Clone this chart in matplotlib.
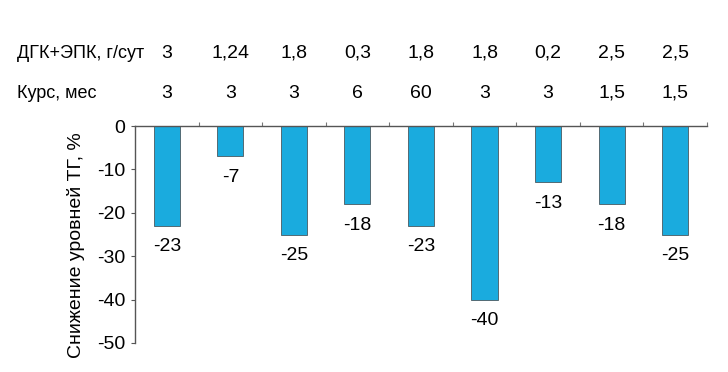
import matplotlib
matplotlib.use("Agg")
import matplotlib.pyplot as plt
import numpy as np

plt.rcParams['font.family'] = ['Liberation Sans', 'DejaVu Sans']

# data
values = [-23, -7, -25, -18, -23, -40, -13, -18, -25]
dose = ['3', '1,24', '1,8', '0,3', '1,8', '1,8', '0,2', '2,5', '2,5']
course = ['3', '3', '3', '6', '60', '3', '3', '1,5', '1,5']
yticks = [0, -10, -20, -30, -40, -50]

bar_color = '#1aabde'
fs = 14

fig = plt.figure(figsize=(7.28, 3.72), dpi=100)
ax = fig.add_axes([0.1855, 0.078, 0.7855, 0.583])

x = np.arange(len(values))
bars = ax.bar(x, values, width=0.41, color=bar_color, edgecolor='#4a5a60', linewidth=0.6)

for xi, v in zip(x, values):
    ax.annotate(str(v), (xi, v), xytext=(0, -9), textcoords='offset points',
                ha='center', va='top', fontsize=fs)

ax.set_xlim(-0.5, len(values) - 0.5)
ax.set_ylim(-50, 0)
ax.set_yticks(yticks)
ax.set_yticklabels([str(t) for t in yticks], fontsize=fs)
ax.tick_params(axis='y', length=3, width=0.8, pad=4, color='#555555')

# category separators as small ticks on the zero line
ax.xaxis.tick_top()
ax.set_xticks(np.arange(0.5, len(values), 1.0))
ax.set_xticklabels([])
ax.tick_params(axis='x', length=3, width=0.8, color='#777777', direction='out')

for s in ['right', 'bottom']:
    ax.spines[s].set_visible(False)
for s in ['left', 'top']:
    ax.spines[s].set_color('#555555')
    ax.spines[s].set_linewidth(1.0)

ax.set_ylabel('Снижение уровней ТГ, %', fontsize=fs)
ax.yaxis.set_label_coords(-0.088, 0.45)

# header rows above the plot
trans = matplotlib.transforms.blended_transform_factory(ax.transData, fig.transFigure)
row1_y = 1 - 53 / 372
row2_y = 1 - 93 / 372
fig.text(17 / 728, row1_y, 'ДГК+ЭПК, г/сут', fontsize=13, ha='left', va='center')
fig.text(17 / 728, row2_y, 'Курс, мес', fontsize=13, ha='left', va='center')
for xi, d, c in zip(x, dose, course):
    ax.text(xi, row1_y, d, transform=trans, ha='center', va='center', fontsize=fs)
    ax.text(xi, row2_y, c, transform=trans, ha='center', va='center', fontsize=fs)

fig.savefig('out.png', dpi=100)
